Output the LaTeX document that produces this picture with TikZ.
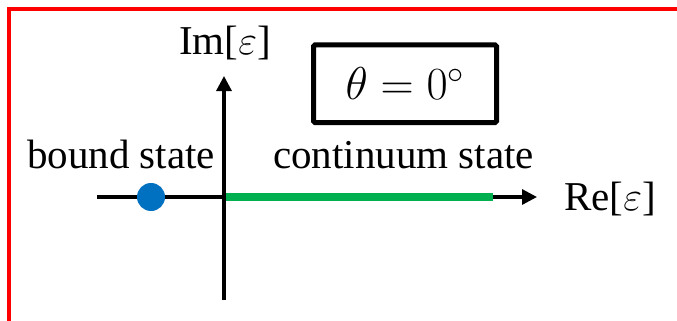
\RequirePackage{fix-cm}
\documentclass[tikz,border=0pt]{standalone}
\usepackage{fontspec}
\setmainfont{Liberation Serif}
\usetikzlibrary{arrows.meta}
\definecolor{contgreen}{RGB}{0,176,80}
\definecolor{boundblue}{RGB}{0,112,192}

\begin{document}
\begin{tikzpicture}[
  x=1pt, y=-1pt,
  axis/.style={line width=3.2pt, draw=black,
               -{Triangle[length=15pt, width=15pt]}},
  cont/.style={line width=7.5pt, draw=contgreen},
  lbl/.style={font=\fontsize{41}{49}\selectfont, inner sep=0pt, anchor=base},
  anglebox/.style={draw=black, line width=5pt, rounded corners=1.5pt,
                   minimum width=183pt, minimum height=77.5pt, inner sep=0pt,
                   font=\fontsize{46}{55}\selectfont},
  bound/.style={circle, fill=boundblue, minimum size=28pt, inner sep=0pt}
]
  \useasboundingbox (0,0) rectangle (677,321);

  % ========== FRAME ==========
  \draw[red, line width=4pt] (9,9.5) rectangle (720,322.5);

  % ========== AXES ==========
  \coordinate (reL) at (97,197);
  \coordinate (reR) at (537,197);
  \coordinate (imB) at (224,300);
  \coordinate (imT) at (224,76);
  \draw[axis] (reL) -- (reR);
  \draw[axis] (imB) -- (imT);

  \node[lbl] (imlbl) at (225,55) {Im[$\varepsilon$]};
  \node[lbl, anchor=base west] (relbl) at (564,210) {Re[$\varepsilon$]};

  % ========== STATES ==========
  \coordinate (contL) at (226,197);
  \coordinate (contR) at (493,197);
  \draw[cont] (contL) -- (contR);
  \node[bound] (bdot) at (151,197) {};

  \node[lbl] (boundlbl) at (121,168) {bound state};
  \node[lbl] (contlbl) at (403.5,168) {continuum state};

  % ========== ANGLE ==========
  \node[anglebox] (theta) at (405,83.75) {$\theta = 0^\circ$};

\end{tikzpicture}
\end{document}
